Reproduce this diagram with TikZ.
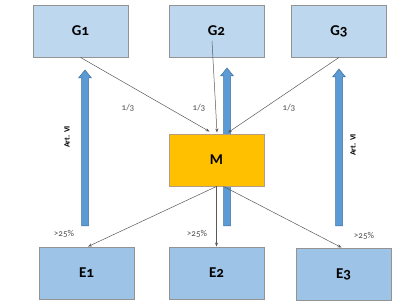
\documentclass[tikz,border=0pt]{standalone}
\usepackage{fontspec}
\setmainfont{Carlito}[Numbers=OldStyle]
\usepackage{tikz}
\usetikzlibrary{arrows.meta}
\definecolor{govBlue}{HTML}{BDD7EE}
\definecolor{entBlue}{HTML}{9DC3E6}
\definecolor{motherGold}{HTML}{FFC000}
\definecolor{shaftBlue}{HTML}{5B9BD5}
\definecolor{shaftEdge}{HTML}{41719C}
\definecolor{linkGray}{HTML}{595959}

\tikzset{
  unitbox/.style={draw=gray!85, line width=0.9pt, minimum width=95pt, minimum height=52pt, font=\bfseries\fontsize{15}{15}\selectfont},
  gbox/.style={unitbox, fill=govBlue},
  ebox/.style={unitbox, fill=entBlue},
  mbox/.style={unitbox, fill=motherGold, draw=brown!70!black!60},
  link/.style={draw=linkGray, line width=0.5pt, -{Stealth[length=4pt,width=3pt]}},
  fatarrow/.style={fill=shaftBlue, draw=shaftEdge, line width=0.5pt},
  share/.style={font=\fontsize{9}{9}\selectfont, text=black!70},
  artlabel/.style={font=\bfseries\fontsize{8}{8}\selectfont, rotate=90}
}

\begin{document}
\begin{tikzpicture}[x=1pt, y=-1pt]
    \useasboundingbox (0,0) rectangle (418,304);
    % upward arrows (behind the boxes)
    \foreach \ax/\tp in {85/70, 227/68, 339/69}
        \filldraw[fatarrow] (\ax-3.5,226) -- (\ax-3.5,\tp+8) -- (\ax-6.5,\tp+8) -- (\ax,\tp) -- (\ax+6.5,\tp+8) -- (\ax+3.5,\tp+8) -- (\ax+3.5,226) -- cycle;
    \node[gbox] (g1) at (80.5,31) {G1};
    \node[gbox] (g2) at (216.5,31) {G2};
    \node[gbox] (g3) at (339,31) {G3};
    \node[mbox] (m) at (216.5,160) {M};
    \node[ebox] (e1) at (86.5,273) {E1};
    \node[ebox] (e2) at (216.5,273) {E2};
    \node[ebox] (e3) at (343.5,274) {E3};
    % shares of the mother company
    \draw[link] (g1.south) -- ([xshift=-7pt,yshift=2pt]m.north);
    \draw[link] ([xshift=-4.5pt,yshift=-10pt]g2.center) -- ([xshift=0.5pt,yshift=1pt]m.north);
    \draw[link] (g3.south) -- ([xshift=11.5pt,yshift=1pt]m.north);
    \draw[link] (m.south) -- ([xshift=1.5pt]e1.north);
    \draw[link] (m.south) -- (e2.north);
    \draw[link] ([xshift=7pt]m.south) -- ([xshift=-2pt]e3.north);
    \node[share] (s1) at (128,108) {1/3};
    \node[share] (s2) at (199,108) {1/3};
    \node[share] (s3) at (289,108) {1/3};
    \node[share] (p1) at (64,234) {>25\%};
    \node[share] (p2) at (197,234) {>25\%};
    \node[share] (p3) at (364,236) {>25\%};
    \node[artlabel] (a1) at (67,137) {Art. VI};
    \node[artlabel] (a2) at (353,145) {Art. VI};
\end{tikzpicture}
\end{document}
